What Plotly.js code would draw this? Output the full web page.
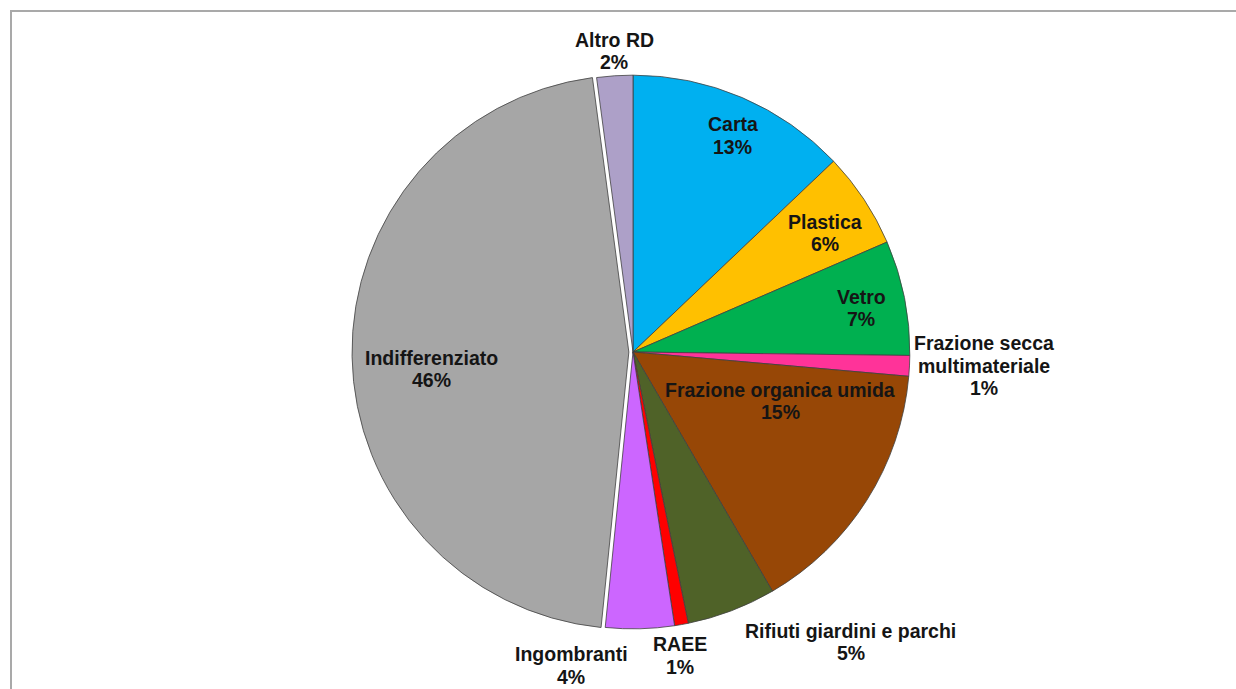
<!DOCTYPE html>
<html>
<head>
<meta charset="utf-8">
<script src="https://cdn.plot.ly/plotly-3.0.1.min.js"></script>
<style>
  html, body { margin: 0; padding: 0; width: 1236px; height: 689px; overflow: hidden; background: #fff; }
  #chart { position: absolute; left: 0; top: 0; width: 1236px; height: 689px; }
  #frame { position: absolute; left: 10px; top: 10px; width: 1226px; height: 679px;
           border-left: 2px solid #a9a9a9; border-top: 2px solid #a9a9a9;
           box-sizing: border-box; pointer-events: none; }
</style>
</head>
<body>
<div id="chart"></div>
<div id="frame"></div>
<script>
const categories = ["Carta", "Plastica", "Vetro", "Frazione secca multimateriale",
  "Frazione organica umida", "Rifiuti giardini e parchi", "RAEE", "Ingombranti",
  "Indifferenziato", "Altro RD"];
const labelLines = [["Carta"], ["Plastica"], ["Vetro"], ["Frazione secca", "multimateriale"],
  ["Frazione organica umida"], ["Rifiuti giardini e parchi"], ["RAEE"], ["Ingombranti"],
  ["Indifferenziato"], ["Altro RD"]];
const values = [12.9, 5.6, 6.7, 1.2, 15.2, 5.2, 0.8, 4.0, 46.3, 2.1];
const colors = ["#00B0F0", "#FFC000", "#00B050", "#FF3399", "#974706", "#4F6228",
  "#FF0000", "#CC66FF", "#A6A6A6", "#ADA0C8"];
const pulls = [0, 0, 0, 0, 0, 0, 0, 0, 0.015, 0];

// label placement (styling): angular offset from slice middle (deg), radius factor
const labelAngleOffset = [1.5, 1.7, 0.4, -0.6, -14, -16, 1.3, 12.6, -3.9, 0.2];
const labelRadius = [0.86, 0.815, 0.84, 1.27, 0.56, 1.31, 1.11, 1.155, 0.73, 1.09];

const W = 1236, H = 689;
const margin = { l: 30, r: 0, t: 71, b: 56 };
const plotW = W - margin.l - margin.r, plotH = H - margin.t - margin.b;
const maxPull = Math.max(...pulls);
const R = Math.min(plotW, plotH) / (2 + 2 * maxPull);

const total = values.reduce((a, b) => a + b, 0);
const fontFamily = "Liberation Sans, Arial, sans-serif";
const fontSize = 19.5, lineH = 22.5;
const annotations = [];
let cum = 0;
values.forEach((v, i) => {
  const frac = v / total;
  const mid = (cum + frac / 2) * 360 + labelAngleOffset[i];
  cum += frac;
  const a = mid * Math.PI / 180;
  const dx = labelRadius[i] * R * Math.sin(a);
  const dy = labelRadius[i] * R * Math.cos(a);
  const lines = labelLines[i].concat([Math.round(frac * 100) + "%"]);
  const n = lines.length;
  lines.forEach((t, j) => {
    annotations.push({
      xref: "paper", yref: "paper", x: 0.5, y: 0.5,
      xshift: dx, yshift: dy + ((n - 1) / 2 - j) * lineH,
      text: "<b>" + t + "</b>", showarrow: false,
      xanchor: "center", yanchor: "middle",
      font: { family: fontFamily, size: fontSize, color: "#151515" }
    });
  });
});

const trace = {
  type: "pie",
  labels: categories,
  values: values,
  textinfo: "none",
  sort: false,
  direction: "clockwise",
  rotation: 0,
  pull: pulls,
  marker: { colors: colors, line: { color: "#404040", width: 0.8 } },
  hoverinfo: "label+percent",
  showlegend: false
};

const layout = {
  width: W, height: H,
  margin: margin,
  paper_bgcolor: "#ffffff",
  showlegend: false,
  annotations: annotations
};

Plotly.newPlot("chart", [trace], layout, { displayModeBar: false, staticPlot: true });
</script>
</body>
</html>
